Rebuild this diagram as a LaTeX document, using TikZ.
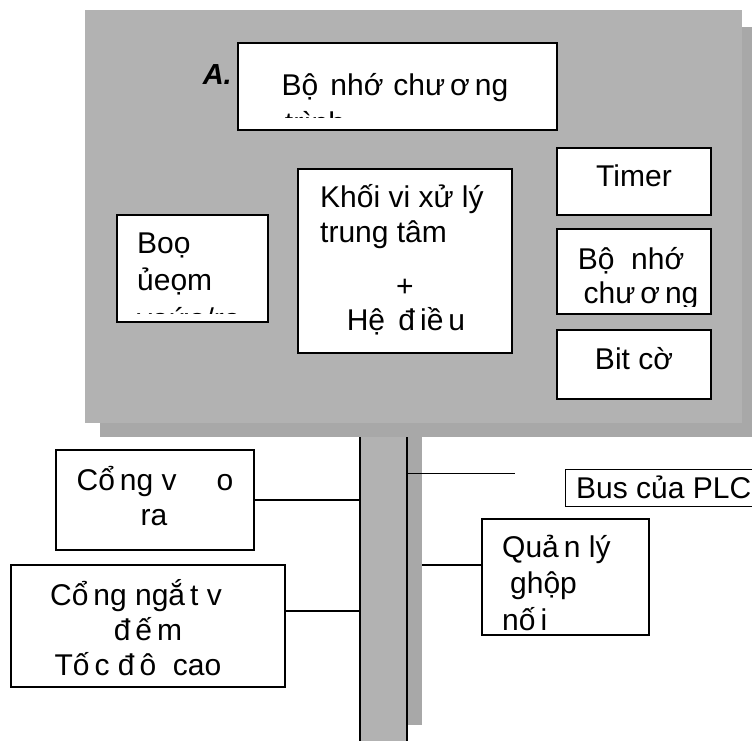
\documentclass[tikz,border=0pt]{standalone}
\usepackage{fontspec}
\setmainfont{Liberation Sans}
\definecolor{panel}{gray}{0.70}
\definecolor{panelshadow}{gray}{0.66}
\begin{document}
\begin{tikzpicture}[x=1pt,y=-1pt,
  box/.style={draw=black, line width=1.8pt, fill=white, inner sep=0pt, outer sep=0pt, anchor=north west},
  thinbox/.style={draw=black, line width=0.9pt, fill=white, inner sep=0pt, outer sep=0pt, anchor=north west},
  slab/.style={fill=#1, draw=none, inner sep=0pt, outer sep=0pt, anchor=north west},
  txt/.style={inner sep=0pt, font=\fontsize{30}{36}\selectfont},
  wire/.style={draw=black, line width=1.3pt}]
\useasboundingbox (0,0) rectangle (752,741);
\fill[white] (0,0) rectangle (752,741);
% grey panel with shadow
\node[slab=panelshadow, minimum width=652pt, minimum height=410pt] (panelsh) at (100,27) {};
\node[slab=panel, minimum width=657pt, minimum height=413pt] (panelmain) at (85,10) {};
% bus
\node[slab=panelshadow, minimum width=15pt, minimum height=288pt] (bussh) at (407,437) {};
\node[slab=panel, minimum width=47pt, minimum height=304pt] (bus) at (360,437) {};
\draw[wire] (bus.north west) -- (bus.south west);
\draw[wire] (bus.north east) -- (bus.south east);

% top memory box
\node[txt, font=\fontsize{29}{34}\selectfont\bfseries\itshape, anchor=base east] (lblA) at (232,85) {A.};
\node[box, minimum width=319pt, minimum height=87pt] (prog) at (238,43) {};
\node[txt, anchor=base] (progt) at (395,96) {Bộ\hspace{12pt}nhớ\hspace{10pt}chư\,ơ\,ng};
\begin{scope}
\clip (240,45) rectangle (555,118);
\node[txt, anchor=base] (progt2) at (315,134) {trình};
\end{scope}

% buffer box
\node[box, minimum width=151pt, minimum height=107pt] (buf) at (117,215) {};
\node[txt, anchor=base west] (buft1) at (137,253) {Boọ};
\node[txt, anchor=base west] (buft2) at (137,290) {ủeọm};
\begin{scope}
\clip (119,217) rectangle (266,313);
\node[txt, anchor=base west] (buft3) at (137,329) {vaứo/ra};
\end{scope}

% CPU box
\node[box, minimum width=214pt, minimum height=184pt] (cpu) at (298,169) {};
\node[txt, anchor=base west] (cput1) at (320,207) {Khối vi xử lý};
\node[txt, anchor=base west] (cput2) at (320,242) {trung tâm};
\node[txt, anchor=base] (cput3) at (405,296) {+};
\node[txt, anchor=base] (cput4) at (406,330) {Hệ\, đ\,iề\,u};

% right column
\node[box, minimum width=154pt, minimum height=67pt] (timer) at (557,148) {};
\node[txt, anchor=base] (timert) at (634,186) {Timer};
\node[box, minimum width=154pt, minimum height=85pt] (mem2) at (557,229) {};
\node[txt, anchor=base] (mem2t1) at (631,269) {Bộ\ \ nhớ};
\begin{scope}
\clip (559,231) rectangle (709,306);
\node[txt, anchor=base] (mem2t2) at (641,303) {chư\,ơ\,ng};
\end{scope}
\node[box, minimum width=154pt, minimum height=69pt] (flag) at (557,330) {};
\node[txt, anchor=base] (flagt) at (634,369) {Bit cờ};

% I/O ports
\node[box, minimum width=198pt, minimum height=100pt] (io) at (56,450) {};
\node[txt, anchor=base] (iot1) at (155,490) {Cổ\,ng v\hspace{40pt}o};
\node[txt, anchor=base] (iot2) at (154,525) {ra};

% high speed counter
\node[box, minimum width=274pt, minimum height=122pt] (hsc) at (11,565) {};
\node[txt, anchor=base] (hsct1) at (136,605) {Cổ\,ng ngắ\,t v\hspace{8pt}};
\node[txt, anchor=base] (hsct2) at (148,640) {đ\,ế\,m};
\node[txt, anchor=base] (hsct3) at (138,675) {Tố\,c đ\,ô\ \ cao};

% bus label
\node[thinbox, minimum width=187pt, minimum height=37pt] (buslbl) at (565,469) {};
\node[txt, anchor=base west] (buslblt) at (576,498) {Bus của PLC};
\coordinate (busptr) at (515,473);

% interface manager
\node[box, minimum width=167pt, minimum height=116pt] (mgr) at (482,519) {};
\node[txt, anchor=base west] (mgrt1) at (502,557) {Quả\,n lý};
\node[txt, anchor=base west] (mgrt2) at (510,593) {ghộp};
\node[txt, anchor=base west] (mgrt3) at (502,630) {nố\,i};

% connectors
\draw[wire] (io.east) -- (io.east -| bus.west);
\draw[wire] ([yshift=15pt]hsc.east) -- ([yshift=15pt]hsc.east -| bus.west);
\draw[wire] ([yshift=12pt]mgr.west) -- ([yshift=12pt]mgr.west -| bussh.east);
\draw[wire, line width=1pt] (bus.east |- busptr) -- (busptr);
\end{tikzpicture}
\end{document}
